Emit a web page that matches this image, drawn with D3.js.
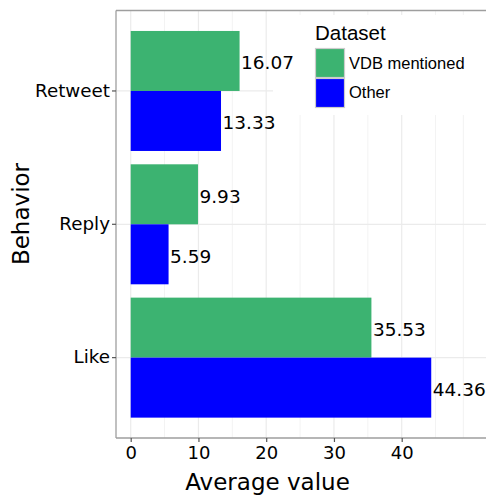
<!DOCTYPE html>
<html>
<head>
<meta charset="utf-8">
<script src="https://cdn.jsdelivr.net/npm/d3@7"></script>
<style>
  html, body { margin: 0; padding: 0; background: #fff; }
  svg { display: block; }
</style>
</head>
<body>
<svg id="chart" width="486" height="496"></svg>
<script>
// ---- data ----
const categories = ["Retweet", "Reply", "Like"];
const seriesNames = ["VDB mentioned", "Other"];
const vdbValues = [16.07, 9.93, 35.53];
const otherValues = [13.33, 5.59, 44.36];
const xTicks = [0, 10, 20, 30, 40];
const xMinorGrid = [5, 15, 25, 35, 45, 49.1];
const colors = ["#3CB371", "#0000FF"];

const svg = d3.select("#chart");
const W = 486, H = 496;

const panel = { left: 116, top: 10.5, bottom: 438, right: 520 };

const x = d3.scaleLinear().domain([0, 40]).range([130.7, 401.7]);
const y = d3.scaleBand().domain(categories).range([24.3, 424.3]).paddingInner(0).paddingOuter(0);
const groupH = y.bandwidth() * 0.9;
const barH = groupH / 2;

const g = svg.append("g");

// gridlines
const grid = g.append("g");
grid.selectAll("line.minor").data(xMinorGrid).enter().append("line")
  .attr("x1", d => x(d)).attr("x2", d => x(d))
  .attr("y1", panel.top).attr("y2", panel.bottom)
  .attr("stroke", "#f3f3f3").attr("stroke-width", 1);
grid.selectAll("line.major").data(xTicks).enter().append("line")
  .attr("x1", d => x(d)).attr("x2", d => x(d))
  .attr("y1", panel.top).attr("y2", panel.bottom)
  .attr("stroke", "#ebebeb").attr("stroke-width", 1.2);
grid.selectAll("line.hmajor").data(categories).enter().append("line")
  .attr("x1", panel.left).attr("x2", W)
  .attr("y1", d => y(d) + y.bandwidth() / 2).attr("y2", d => y(d) + y.bandwidth() / 2)
  .attr("stroke", "#ebebeb").attr("stroke-width", 1.2);

// legend background (covers gridlines)
g.append("rect").attr("x", 273).attr("y", 15).attr("width", W - 273).attr("height", 100)
  .attr("fill", "#fff");

// bars
const rows = categories.map((c, i) => ({ cat: c, vals: [vdbValues[i], otherValues[i]] }));
const bars = g.append("g");
rows.forEach(r => {
  r.vals.forEach((v, j) => {
    const cy = y(r.cat) + y.bandwidth() / 2;
    const top = cy - groupH / 2 + j * barH;
    bars.append("rect")
      .attr("x", x(0)).attr("y", top)
      .attr("width", x(v) - x(0)).attr("height", barH)
      .attr("fill", colors[j]);
    bars.append("text")
      .attr("x", x(v) + 1.5).attr("y", top + barH / 2 + 8.5)
      .attr("font-family", "DejaVu Sans").attr("font-size", 18.5)
      .attr("fill", "#000")
      .text(v.toFixed(2));
  });
});

// panel border (top, left) and axis line bottom
const bc = "#9e9e9e";
g.append("line").attr("x1", panel.left).attr("x2", W).attr("y1", panel.top).attr("y2", panel.top)
  .attr("stroke", bc).attr("stroke-width", 1.3);
g.append("line").attr("x1", panel.left).attr("x2", panel.left).attr("y1", panel.top).attr("y2", panel.bottom)
  .attr("stroke", bc).attr("stroke-width", 1.3);
g.append("line").attr("x1", panel.left).attr("x2", W).attr("y1", panel.bottom).attr("y2", panel.bottom)
  .attr("stroke", bc).attr("stroke-width", 1.3);

// x axis
const xAxis = d3.axisBottom(x).tickValues(xTicks).tickSize(4).tickPadding(4).tickFormat(d3.format("d"));
const xg = g.append("g").attr("transform", `translate(0,${panel.bottom})`).call(xAxis);
xg.select(".domain").remove();
xg.selectAll(".tick line").attr("stroke", "#555").attr("stroke-width", 1.2);
xg.selectAll(".tick text").attr("font-family", "DejaVu Sans").attr("font-size", 18).attr("fill", "#000")
  .attr("dy", "0.71em");

// y axis
const yAxis = d3.axisLeft(y).tickSize(4).tickPadding(2);
const yg = g.append("g").attr("transform", `translate(${panel.left},0)`).call(yAxis);
yg.select(".domain").remove();
yg.selectAll(".tick line").attr("stroke", "#555").attr("stroke-width", 1.2);
yg.selectAll(".tick text").attr("font-family", "DejaVu Sans").attr("font-size", 18.3).attr("fill", "#000");

// axis titles
g.append("text").attr("x", 267.5).attr("y", 490).attr("text-anchor", "middle")
  .attr("font-family", "DejaVu Sans").attr("font-size", 23).attr("fill", "#000").text("Average value");
g.append("text").attr("transform", "translate(29,214) rotate(-90)").attr("text-anchor", "middle")
  .attr("font-family", "DejaVu Sans").attr("font-size", 23).attr("fill", "#000").text("Behavior");

// legend
const lg = g.append("g");
lg.append("text").attr("x", 315).attr("y", 40).attr("font-family", "Liberation Sans, Arial")
  .attr("font-size", 20.5).attr("fill", "#000").text("Dataset");
seriesNames.forEach((s, i) => {
  lg.append("rect").attr("x", 315.5).attr("y", 48.5 + i * 30).attr("width", 29).attr("height", 29)
    .attr("fill", colors[i]).attr("stroke", "#cccccc").attr("stroke-width", 1.2);
  lg.append("text").attr("x", 349).attr("y", 68.5 + i * 29.5).attr("font-family", "Liberation Sans, Arial")
    .attr("font-size", 16.5).attr("fill", "#000").text(s);
});
</script>
</body>
</html>
